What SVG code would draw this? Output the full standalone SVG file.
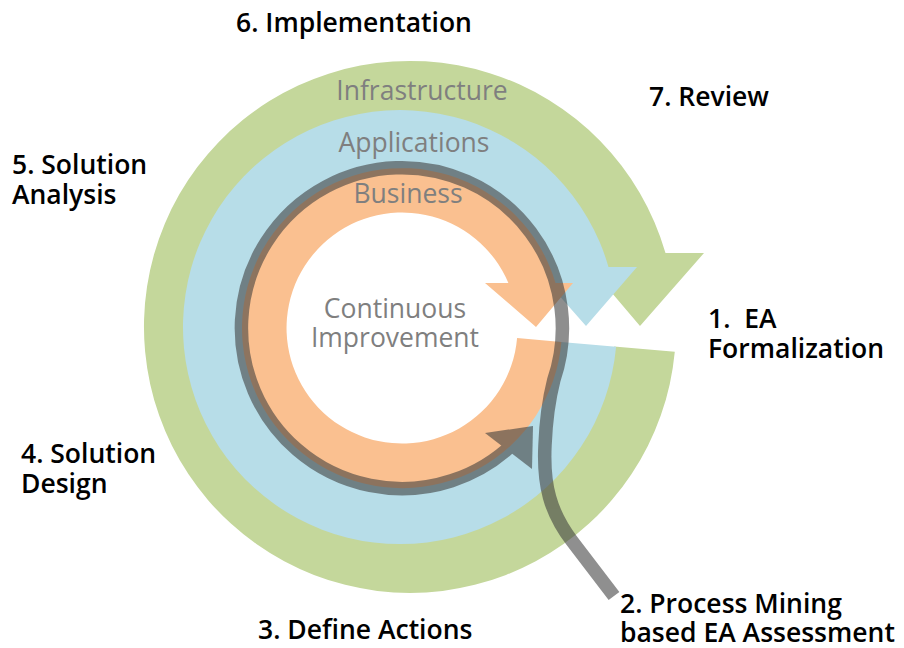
<svg xmlns="http://www.w3.org/2000/svg" width="904" height="648" viewBox="0 0 904 648">
<defs>
<style>
.lbl{font-family:"Open Sans","Liberation Sans",sans-serif;font-weight:600;font-size:26.5px;fill:#000}
.ring{font-family:"Open Sans","Liberation Sans",sans-serif;font-weight:400;font-size:26.5px;fill:#7f7f7f;text-anchor:middle}
.band{fill:none;stroke:#3a3a3a;stroke-width:13.5;stroke-linecap:butt}
</style>
</defs>
<rect width="904" height="648" fill="#fff"/>
<g id="infrastructure">
<path fill="#c4d79b" d="M 674.8 351.8 A 266 266 0 1 1 665.5 253 L 704 253 L 640 326 L 578 253 L 601.2 253 A 205 205 0 1 0 614.1 346.5 Z"/>
<text class="ring" x="422" y="100">Infrastructure</text>
</g>
<g id="applications">
<path fill="#b7dde8" d="M 616.1 346.7 A 217 217 0 1 1 608.5 267 L 637 267 L 586 326 L 534 267 L 544 267 A 156 156 0 1 0 555.3 341.4 Z"/>
<text class="ring" x="414" y="152">Applications</text>
</g>
<g id="business">
<path fill="#fac090" d="M 561.4 342 A 160 160 0 1 1 555.5 283 L 573 283 L 536 327 L 485 283 L 508.4 283 A 115.5 115.5 0 1 0 517.1 338.1 Z"/>
<text class="ring" x="408" y="203">Business</text>
</g>
<g id="continuous-improvement">
<text class="ring" x="395" y="318">Continuous</text>
<text class="ring" x="395" y="347">Improvement</text>
</g>
<g id="connectors">
<g opacity="0.57">
<path class="band" d="M 614 596 L 572 541 C 550 512 543 485 545 445 C 546 420 548 403 553.8 380 A 160.5 160.5 0 1 0 513.5 443.5"/>
<polygon fill="#3a3a3a" points="485,433 533,426 532,469"/>
</g>
</g>
<g id="step1"><text class="lbl" x="708" y="328" xml:space="preserve">1.  EA</text><text class="lbl" x="708" y="358">Formalization</text></g>
<g id="step2"><text class="lbl" x="620" y="613">2. Process Mining</text><text class="lbl" x="620" y="642">based EA Assessment</text></g>
<g id="step3"><text class="lbl" x="258" y="639">3. Define Actions</text></g>
<g id="step4"><text class="lbl" x="21" y="463">4. Solution</text><text class="lbl" x="21" y="493">Design</text></g>
<g id="step5"><text class="lbl" x="12" y="174">5. Solution</text><text class="lbl" x="12" y="204">Analysis</text></g>
<g id="step6"><text class="lbl" x="236" y="32">6. Implementation</text></g>
<g id="step7"><text class="lbl" x="649" y="106">7. Review</text></g>
</svg>
